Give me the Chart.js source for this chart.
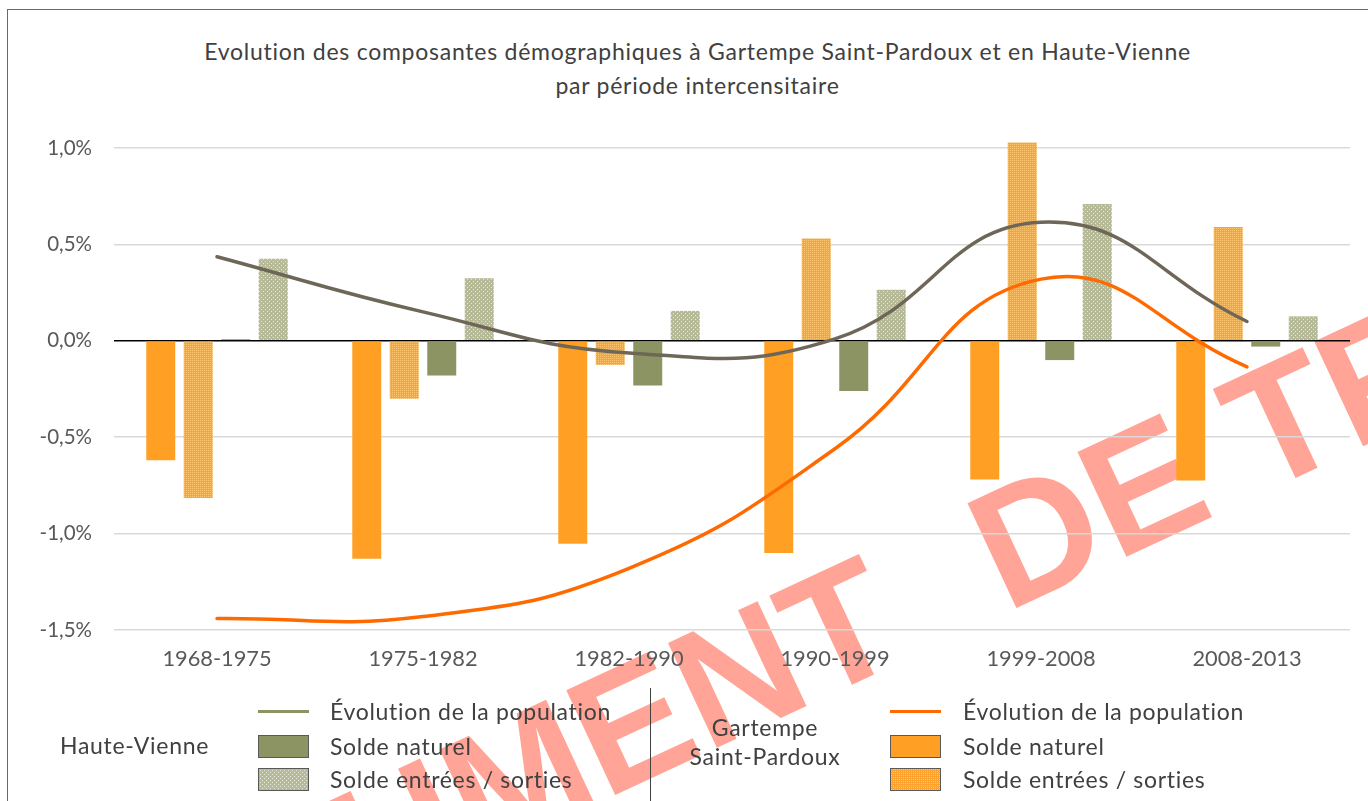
<!DOCTYPE html>
<html>
<head>
<meta charset="utf-8">
<script src="https://cdn.jsdelivr.net/npm/chart.js@4/dist/chart.umd.min.js"></script>
<style>
  html, body { margin:0; padding:0; background:#fff; }
  body { width:1368px; height:801px; position:relative; overflow:hidden; font-family: Lato, "Open Sans", sans-serif; }
  #frame { position:absolute; left:7px; top:9px; width:1420px; height:900px; border:1.5px solid #6a6a6a; box-sizing:border-box; }
  #wm { position:absolute; left:0; top:0; white-space:nowrap; font-family:"Liberation Sans", Arial, sans-serif; font-weight:bold; color:#FFA497; line-height:1; }
  #wm span { margin-right:60px; }
  #chartWrap { position:absolute; left:0; top:0; width:1368px; height:801px; }
  #title { position:absolute; left:0; width:1395px; top:34px; text-align:center; color:#404040; font-size:23px; letter-spacing:0.75px; line-height:34px; }
  .lg { position:absolute; color:#404040; font-size:23px; letter-spacing:0.7px; line-height:26px; white-space:nowrap; }
  .sw { position:absolute; box-sizing:border-box; }
  .sep { position:absolute; left:650px; top:688px; width:1px; height:113px; background:#404040; }
</style>
</head>
<body>
<div id="wm"><span>DOCUMENT</span> DE TRAVAIL</div>
<div id="frame"></div>
<div id="title">Evolution des composantes démographiques à Gartempe Saint-Pardoux et en Haute-Vienne<br>par période intercensitaire</div>
<div id="chartWrap"><canvas id="c" width="1368" height="801"></canvas></div>
<div id="legend"></div>
<script>
// ---- data ----
const categories = ['1968-1975','1975-1982','1982-1990','1990-1999','1999-2008','2008-2013'];
const gspNaturel    = [-0.62, -1.13, -1.053, -1.10, -0.72, -0.725];
const gspMigratoire = [-0.815, -0.30, -0.125, 0.53, 1.028, 0.59];
const gspPopulation = [-1.44, -1.43, -1.18, -0.56, 0.32, -0.135];
const hvNaturel     = [0.008, -0.18, -0.232, -0.26, -0.10, -0.03];
const hvMigratoire  = [0.425, 0.325, 0.155, 0.265, 0.71, 0.127];
const hvPopulation  = [0.436, 0.15, -0.063, 0.01, 0.615, 0.10];
const yTickValues = [-1.5, -1.0, -0.5, 0.0, 0.5, 1.0];
const yTickLabels = ['-1,5%', '-1,0%', '-0,5%', '0,0%', '0,5%', '1,0%'];
const legendGroups = ['Haute-Vienne', 'Gartempe\nSaint-Pardoux'];
const legendItems = ['Évolution de la population', 'Solde naturel', 'Solde entrées / sorties'];

// ---- watermark placement ----
(function(){
  const wm = document.getElementById('wm');
  const fs = 168, ang = -25, ox = 30, oy = 1068;
  const base = 0.846 * fs;
  wm.style.fontSize = fs + 'px';
  wm.style.left = ox + 'px';
  wm.style.top = (oy - base) + 'px';
  wm.style.transformOrigin = '0px ' + base + 'px';
  wm.style.transform = 'rotate(' + ang + 'deg)';
})();

// ---- patterns ----
function makeTile(base, light, size, dots) {
  const c = document.createElement('canvas');
  c.width = size; c.height = size;
  const x = c.getContext('2d');
  x.fillStyle = base; x.fillRect(0, 0, size, size);
  x.fillStyle = light;
  dots.forEach(d => x.fillRect(d[0], d[1], 1, 1));
  return c;
}
const orangeTile = makeTile('#FFA32C', '#FFC56E', 4, [[0,0],[2,0],[0,2],[2,2]]);
const beigeTile  = makeTile('#B7BA96', '#E6E8DA', 4, [[1,1],[3,3]]);
const cctx = document.getElementById('c').getContext('2d');
const orangePattern = cctx.createPattern(orangeTile, 'repeat');
const beigePattern  = cctx.createPattern(beigeTile, 'repeat');

const COL_ORANGE = '#FFA024';
const COL_OLIVE = '#8C9464';
const COL_GREYLINE = '#6E6758';
const COL_ORLINE = '#FF6A00';

const barCommon = { categoryPercentage: 0.728, barPercentage: 0.773, order: 2, clip: false, borderWidth: 0 };

new Chart(document.getElementById('c'), {
  type: 'bar',
  data: {
    labels: categories,
    datasets: [
      Object.assign({ label: 'GSP naturel', data: gspNaturel, backgroundColor: COL_ORANGE }, barCommon),
      Object.assign({ label: 'GSP migratoire', data: gspMigratoire, backgroundColor: orangePattern }, barCommon),
      Object.assign({ label: 'HV naturel', data: hvNaturel, backgroundColor: COL_OLIVE }, barCommon),
      Object.assign({ label: 'HV migratoire', data: hvMigratoire, backgroundColor: beigePattern }, barCommon),
      { type: 'line', label: 'HV population', data: hvPopulation, borderColor: COL_GREYLINE, borderWidth: 3.5, pointRadius: 0, tension: 0.45, order: 0, fill: false, borderCapStyle: 'round', clip: false },
      { type: 'line', label: 'GSP population', data: gspPopulation, borderColor: COL_ORLINE, borderWidth: 3.5, pointRadius: 0, tension: 0.45, order: 0, fill: false, borderCapStyle: 'round', clip: false }
    ]
  },
  options: {
    responsive: false,
    animation: false,
    layout: { padding: { top: 148, right: 18, left: 0, bottom: 0 } },
    plugins: { legend: { display: false }, title: { display: false }, tooltip: { enabled: false } },
    scales: {
      x: {
        grid: { display: false, drawTicks: false },
        border: { display: false },
        ticks: { color: '#595959', font: { family: 'Lato', size: 21.8 }, padding: 16, maxRotation: 0 },
        afterFit: s => { s.height = 171; }
      },
      y: {
        min: -1.5, max: 1.0,
        afterBuildTicks: s => { s.ticks = yTickValues.map(v => ({ value: v })); },
        grid: {
          drawTicks: false,
          color: c => (c.tick && Math.abs(c.tick.value) < 1e-9) ? '#000000' : '#D9D9D9',
          lineWidth: 1.5
        },
        border: { display: false },
        ticks: {
          color: '#595959', font: { family: 'Lato', size: 20.5 }, padding: 22,
          callback: (v) => { const i = yTickValues.findIndex(t => Math.abs(t - v) < 1e-9); return i >= 0 ? yTickLabels[i] : ''; }
        },
        afterFit: s => { s.width = 114; }
      }
    }
  }
});

// ---- legend (HTML) ----
(function(){
  const L = document.getElementById('legend');
  function add(html) { L.insertAdjacentHTML('beforeend', html); }
  const orangeURL = orangeTile.toDataURL();
  const beigeURL = beigeTile.toDataURL();
  add('<div class="lg" style="left:60px;top:732px;">' + legendGroups[0] + '</div>');
  const g2 = legendGroups[1].split('\n');
  add('<div class="lg" style="left:655px;width:220px;text-align:center;top:713px;line-height:29px;">' + g2[0] + '<br>' + g2[1] + '</div>');
  add('<div class="sep"></div>');
  const cols = [
    { sx: 258, tx: 330, line: COL_OLIVE, solid: COL_OLIVE, pat: beigeURL },
    { sx: 890, tx: 963, line: COL_ORLINE, solid: COL_ORANGE, pat: orangeURL }
  ];
  const rowsY = [711, 746, 779];
  cols.forEach(c => {
    add('<div class="sw" style="left:' + c.sx + 'px;top:' + (rowsY[0]-1.5) + 'px;width:51px;height:3px;background:' + c.line + ';"></div>');
    add('<div class="sw" style="left:' + c.sx + 'px;top:' + (rowsY[1]-11) + 'px;width:51px;height:23px;background:' + c.solid + ';border:1px solid #595959;"></div>');
    add('<div class="sw" style="left:' + c.sx + 'px;top:' + (rowsY[2]-11) + 'px;width:51px;height:23px;background-image:url(' + c.pat + ');border:1px solid #595959;"></div>');
    legendItems.forEach((t, i) => {
      add('<div class="lg" style="left:' + c.tx + 'px;top:' + (rowsY[i]-13) + 'px;">' + t + '</div>');
    });
  });
})();
</script>
</body>
</html>
